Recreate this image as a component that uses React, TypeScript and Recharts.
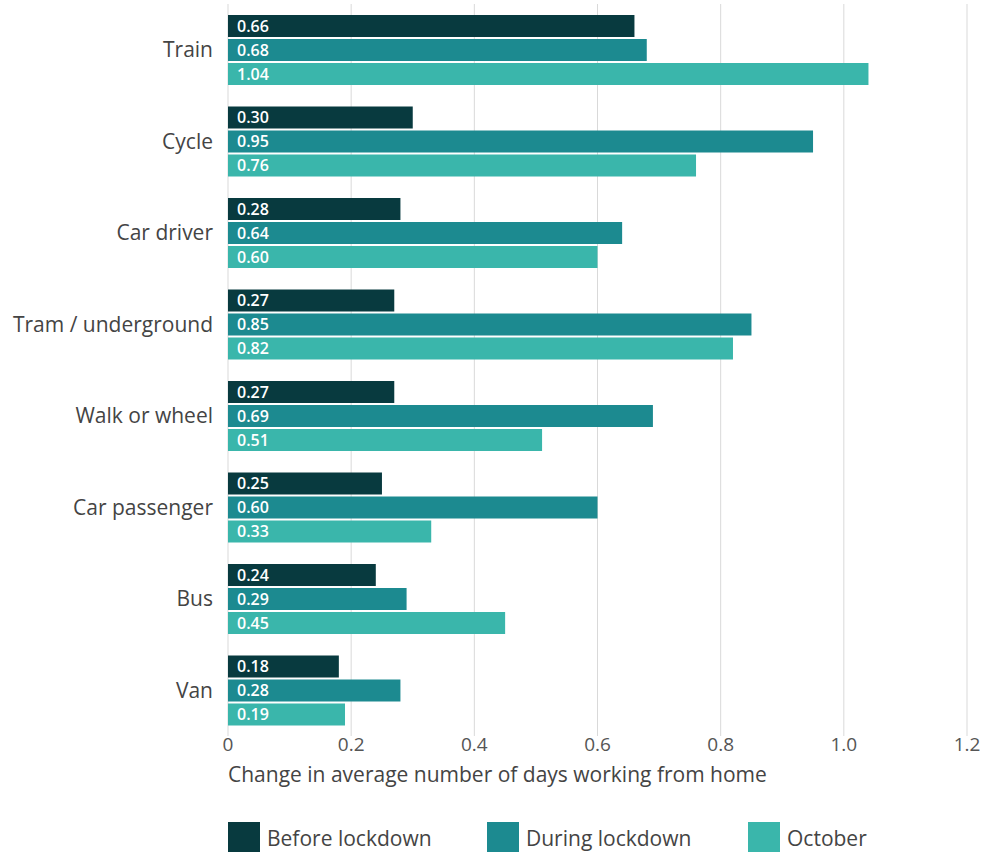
import React from 'react';
import { BarChart, Bar, XAxis, YAxis, CartesianGrid, Legend, LabelList } from 'recharts';

const categories = ['Train', 'Cycle', 'Car driver', 'Tram / underground', 'Walk or wheel', 'Car passenger', 'Bus', 'Van'];
const beforeLockdown = [0.66, 0.3, 0.28, 0.27, 0.27, 0.25, 0.24, 0.18];
const duringLockdown = [0.68, 0.95, 0.64, 0.85, 0.69, 0.6, 0.29, 0.28];
const october = [1.04, 0.76, 0.6, 0.82, 0.51, 0.33, 0.45, 0.19];
const xTicks = [0, 0.2, 0.4, 0.6, 0.8, 1.0, 1.2];

const series = [
  { key: 'before', name: 'Before lockdown', color: '#083a3f' },
  { key: 'during', name: 'During lockdown', color: '#1c8a90' },
  { key: 'october', name: 'October', color: '#3ab6ab' },
];

const data = categories.map((name, i) => ({
  name,
  before: beforeLockdown[i],
  during: duringLockdown[i],
  october: october[i],
}));

const FONT = '"Open Sans", Lato, sans-serif';

function AxisTitle(props: any) {
  const { viewBox } = props;
  return (
    <text x={viewBox.x} y={viewBox.y + 46} fill="#444" fontSize={21} fontFamily={FONT}>
      Change in average number of days working from home
    </text>
  );
}

function LegendContent() {
  const lefts = [228, 487, 748];
  return (
    <div style={{ position: 'relative', width: 985, height: 56, fontFamily: FONT }}>
      {series.map((s, i) => (
        <div key={s.key} style={{ position: 'absolute', left: lefts[i], top: 26, display: 'flex', alignItems: 'center' }}>
          <span style={{ width: 32, height: 32, background: s.color, display: 'inline-block' }} />
          <span style={{ marginLeft: 7, fontSize: 21, color: '#444' }}>{s.name}</span>
        </div>
      ))}
    </div>
  );
}

export default function App() {
  return (
    <div style={{ position: 'absolute', left: 0, top: 0, background: '#fff' }}>
      <BarChart
        width={985}
        height={852}
        data={data}
        layout="vertical"
        margin={{ top: 4, right: 18, bottom: 0, left: 0 }}
        barSize={22}
        barGap={2}
      >
        <CartesianGrid horizontal={false} stroke="#d9d9d9" />
        <XAxis
          type="number"
          domain={[0, 1.2]}
          ticks={xTicks}
          tickFormatter={(v: number) => (v === 0 ? '0' : v.toFixed(1))}
          tickLine={false}
          axisLine={false}
          tickSize={0}
          tickMargin={2}
          height={60}
          tick={{ fontSize: 19, fill: '#555', fontFamily: FONT }}
          label={<AxisTitle />}
        />
        <YAxis
          type="category"
          dataKey="name"
          width={228}
          tickLine={false}
          axisLine={false}
          tickSize={0}
          tickMargin={15}
          tick={{ fontSize: 21, fill: '#444', fontFamily: FONT }}
        />
        <Legend verticalAlign="bottom" height={56} content={<LegendContent />} wrapperStyle={{ left: 0, width: 985 }} />
        {series.map((s) => (
          <Bar key={s.key} dataKey={s.key} name={s.name} fill={s.color} isAnimationActive={false}>
            <LabelList
              dataKey={s.key}
              position="insideLeft"
              offset={9}
              fill="#fff"
              fontSize={16}
              fontWeight={600}
              fontFamily={FONT}
              formatter={(v: any) => Number(v).toFixed(2)}
            />
          </Bar>
        ))}
      </BarChart>
    </div>
  );
}
